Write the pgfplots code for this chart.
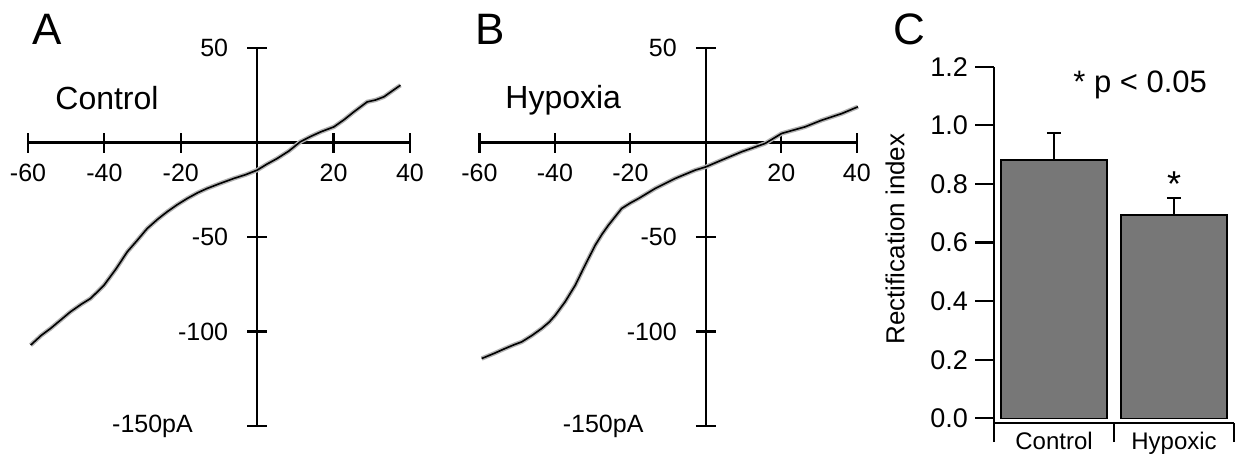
\documentclass[border=0pt]{standalone}
\usepackage{fontspec}
\setmainfont{Liberation Sans}
\usepackage{pgfplots}
\pgfplotsset{compat=1.18}
\usepackage{pgfplotstable}

\definecolor{barGray}{HTML}{777777}

% I-V traces (mV, pA)
\pgfplotstableread{
v i
-59.3 -107.2
-56.5 -102.0
-54.1 -98.4
-51.5 -94.0
-48.9 -89.6
-46.0 -85.5
-43.6 -82.5
-40.1 -75.5
-37.0 -67.0
-34.0 -57.8
-31.5 -52.0
-28.8 -45.5
-26.0 -40.5
-23.6 -36.7
-21.0 -33.0
-18.3 -29.6
-15.5 -26.5
-13.1 -24.3
-9.5 -21.5
-6.1 -19.0
-3.0 -17.0
0.0 -14.6
2.5 -11.5
5.2 -8.5
8.3 -4.5
11.3 0.4
14.0 3.2
16.6 5.6
20.1 8.3
22.7 12.0
25.3 16.2
28.8 21.5
31.0 22.5
33.2 24.2
35.5 27.5
37.5 30.3
}\controliv

\pgfplotstableread{
v i
-59.4 -114.3
-56.0 -111.5
-53.2 -109.0
-50.8 -107.0
-48.8 -105.5
-46.0 -102.0
-43.5 -98.4
-41.5 -95.0
-39.9 -91.4
-37.3 -84.3
-34.6 -75.5
-32.0 -64.9
-29.3 -54.3
-27.5 -48.5
-25.8 -43.7
-22.3 -34.9
-20.0 -32.0
-17.8 -29.6
-13.4 -24.3
-8.1 -19.0
-2.8 -14.6
0.0 -12.9
4.2 -9.3
9.5 -4.9
15.7 -0.5
20.1 4.8
26.3 8.3
30.7 11.8
36.0 15.3
40.3 18.9
}\hypoxiaiv

\pgfplotsset{
  ivaxis/.style={
    scale only axis, anchor=south west,
    width=191pt, height=189pt,
    xmin=-60, xmax=40, ymin=-150, ymax=50,
    axis lines=middle,
    axis line style={-, line width=1.1pt},
    xtick={-60,-40,-20,20,40}, xticklabels={-60,-40,-20,20,40},
    ytick={-150,-100,-50,50}, yticklabels={,-100,-50,50},
    tick align=center, major tick length=10pt,
    tick style={line width=1.1pt, black},
    xticklabel style={font=\fontsize{12.5}{14}\selectfont, anchor=north, yshift=-2pt},
    yticklabel style={font=\fontsize{12.5}{14}\selectfont, anchor=east, xshift=-6pt},
    clip=false,
  },
  noisy/.style={gray!60, line width=2.2pt},
  trace/.style={black, line width=0.8pt},
}

\begin{document}
\begin{tikzpicture}
\useasboundingbox (0,0) rectangle (617.5pt,228pt);

% A: control
\begin{axis}[ivaxis, at={(14pt,15pt)}]
  \addplot[noisy] table[x=v, y=i] {\controliv};
  \addplot[trace] table[x=v, y=i] {\controliv};
  \node[anchor=east, inner sep=0pt, xshift=-32pt, font=\fontsize{12.5}{14}\selectfont] at (axis cs:0,-150) {-150pA};
\end{axis}

% B: hypoxia
\begin{axis}[ivaxis, at={(239.7pt,15pt)}, width=188.7pt]
  \addplot[noisy] table[x=v, y=i] {\hypoxiaiv};
  \addplot[trace] table[x=v, y=i] {\hypoxiaiv};
  \node[anchor=east, inner sep=0pt, xshift=-31pt, font=\fontsize{12.5}{14}\selectfont] at (axis cs:0,-150) {-150pA};
\end{axis}

% C: rectification index
\begin{axis}[
  at={(497pt,16.5pt)}, anchor=south west, scale only axis,
  width=120pt, height=178.1pt,
  xmin=0, xmax=2, ymin=-0.016, ymax=1.2,
  axis x line=bottom, axis y line=left,
  axis line style={-, line width=1.1pt},
  ytick={0,0.2,0.4,0.6,0.8,1.0,1.2},
  yticklabels={0.0,0.2,0.4,0.6,0.8,1.0,1.2},
  xtick={0,1,2}, xticklabels={,,},
  extra x ticks={0.5,1.5}, extra x tick labels={Control,Hypoxic},
  extra x tick style={tick style={draw=none}, xticklabel style={yshift=8.5pt}},
  tick align=outside, major tick length=9.5pt,
  tick style={line width=1.1pt, black},
  yticklabel style={font=\fontsize{13.5}{15}\selectfont},
  xticklabel style={font=\fontsize{12}{14}\selectfont},
  ybar, bar width=53pt,
  clip=false,
]
  \addplot[fill=barGray, draw=black, line width=0.8pt,
    error bars/.cd, y dir=plus, y explicit, error mark=-,
    error bar style={line width=0.9pt, black},
    error mark options={rotate=90, black, line width=0.9pt, mark size=3.6pt}]
    coordinates {(0.5,0.882) +- (0,0.091) (1.5,0.694) +- (0,0.057)};
  \node[font=\fontsize{18}{20}\selectfont] at (axis cs:1.5,0.80) {*};
\end{axis}

\node[anchor=base west, inner sep=0pt, font=\fontsize{22}{26}\selectfont] at (16pt,205.5pt) {A};
\node[anchor=base west, inner sep=0pt, font=\fontsize{22}{26}\selectfont] at (237.5pt,205.5pt) {B};
\node[anchor=base west, inner sep=0pt, font=\fontsize{22}{26}\selectfont] at (446.5pt,205.5pt) {C};
\node[anchor=base west, inner sep=0pt, font=\fontsize{16}{19}\selectfont] at (27.5pt,173pt) {Control};
\node[anchor=base west, inner sep=0pt, font=\fontsize{16}{19}\selectfont] at (252.5pt,174pt) {Hypoxia};
\node[anchor=base west, inner sep=0pt, font=\fontsize{15.5}{18}\selectfont] at (536.5pt,181.5pt) {* p < 0.05};
\node[rotate=90, inner sep=0pt, font=\fontsize{13}{15}\selectfont] at (447.5pt,108.5pt) {Rectification index};
\end{tikzpicture}
\end{document}
